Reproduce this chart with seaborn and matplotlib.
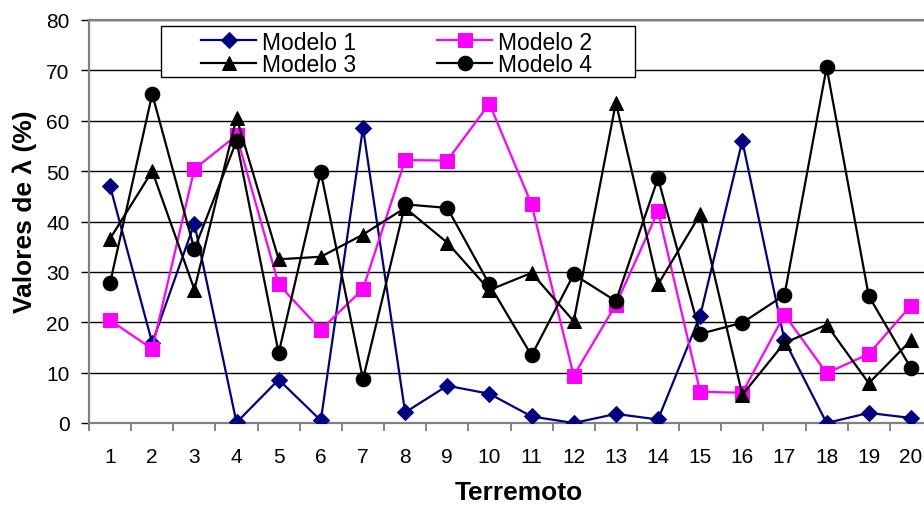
import matplotlib
matplotlib.use("Agg")
import matplotlib.pyplot as plt
import seaborn as sns
from matplotlib.patches import Rectangle
from matplotlib.ticker import FixedLocator

plt.rcParams['font.family'] = ['Liberation Sans', 'DejaVu Sans']

terremotos = list(range(1, 21))
modelo1 = [47.0, 15.9, 39.6, 0.1, 8.6, 0.5, 58.6, 2.1, 7.4, 5.8,
           1.3, 0.0, 1.8, 0.7, 21.3, 56.0, 16.4, 0.0, 2.0, 1.0]
modelo2 = [20.4, 14.7, 50.4, 57.1, 27.5, 18.5, 26.6, 52.2, 52.1, 63.4,
           43.4, 9.4, 23.5, 42.0, 6.2, 6.0, 21.5, 9.9, 13.7, 23.3]
modelo3 = [36.6, 50.0, 26.5, 60.6, 32.5, 33.0, 37.4, 42.7, 35.8, 26.4,
           29.8, 20.2, 63.6, 27.5, 41.4, 5.6, 15.9, 19.5, 7.9, 16.4]
modelo4 = [27.8, 65.3, 34.5, 56.0, 13.9, 49.8, 8.7, 43.4, 42.7, 27.5,
           13.4, 29.5, 24.2, 48.6, 17.7, 19.9, 25.4, 70.6, 25.2, 10.9]
y_ticks = [0, 10, 20, 30, 40, 50, 60, 70, 80]

W, H = 924, 506
fig = plt.figure(figsize=(W / 100, H / 100), dpi=100)
ax = fig.add_axes([89 / W, (H - 424) / H, 843 / W, 403 / H])

series = {
    "Modelo 1": (modelo1, "#000080", "D", 8.5),
    "Modelo 2": (modelo2, "#FF00FF", "s", 10.5),
    "Modelo 3": (modelo3, "black", "^", 10.5),
    "Modelo 4": (modelo4, "black", "o", 10.5),
}
for lab, (vals, col, mk, ms) in series.items():
    sns.lineplot(x=terremotos, y=vals, ax=ax, color=col, marker=mk,
                 markersize=ms, markeredgecolor=col, markerfacecolor=col,
                 linewidth=1.6, label=lab, zorder=3)
leg0 = ax.get_legend()
if leg0 is not None:
    leg0.remove()

ax.set_xlim(0.5, 20.5)
ax.set_ylim(0, 80)
ax.set_yticks(y_ticks)
ax.set_xticks(terremotos)
ax.xaxis.set_minor_locator(FixedLocator([i + 0.5 for i in range(0, 21)]))
ax.tick_params(axis='x', which='major', length=0, pad=17, labelsize=15)
ax.tick_params(axis='x', which='minor', length=6, width=1.2, color='#707070', direction='out')
ax.tick_params(axis='y', which='major', length=6, width=1, color='black', pad=8, labelsize=15)

ax.grid(axis='y', color='black', linewidth=1)
ax.set_axisbelow(True)
for side in ['left', 'bottom', 'top', 'right']:
    ax.spines[side].set_color('#808080')
    ax.spines[side].set_linewidth(1.6)

ax.set_xlabel("Terremoto", fontsize=19, fontweight='bold')
ax.set_ylabel("Valores de λ (%)", fontsize=19, fontweight='bold')
ax.xaxis.set_label_coords(0.5095, -0.141)
ax.yaxis.set_label_coords(-0.062, 0.526)

# legend frame
rect = Rectangle((161 / W, (H - 78.3) / H), 474 / W, 51.6 / H,
                 transform=fig.transFigure, facecolor='white',
                 edgecolor='black', linewidth=1, zorder=4)
fig.add_artist(rect)

handles, labels = ax.get_legend_handles_labels()
hmap = dict(zip(labels, handles))
order = ["Modelo 1", "Modelo 3", "Modelo 2", "Modelo 4"]
fig.legend([hmap[o] for o in order], order, ncol=2, frameon=False,
           loc='upper left', bbox_to_anchor=(201 / W, (H - 31.5) / H),
           bbox_transform=fig.transFigure, borderpad=0, borderaxespad=0,
           fontsize=16.5, handlelength=2.4, handletextpad=0.26,
           columnspacing=3.54, labelspacing=-0.04)

fig.savefig("out.png", dpi=100)
